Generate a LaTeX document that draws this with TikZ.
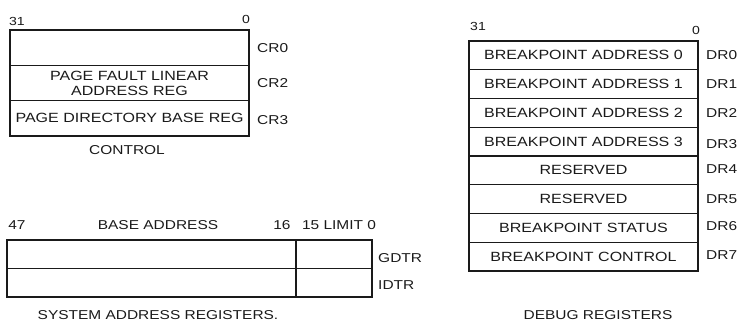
\documentclass[tikz,border=0pt]{standalone}
\usepackage{fontspec}
\setmainfont{Liberation Sans}[FakeStretch=1.2]
\usetikzlibrary{positioning}
\definecolor{ink}{HTML}{1A1A1A}

\begin{document}
\begin{tikzpicture}[x=0.3mm,y=-0.3mm,
  regrow/.style={draw=ink,line width=1.1pt,inner sep=0pt,outer sep=0pt,
    align=center,text=ink,font=\fontsize{11.4}{12.8}\selectfont},
  ctrlrow/.style={regrow,minimum width=71.7mm,minimum height=10.6mm},
  dbgrow/.style={regrow,minimum width=68.7mm,minimum height=8.625mm},
  baserow/.style={regrow,minimum width=86.7mm,minimum height=8.55mm},
  limrow/.style={regrow,minimum width=22.8mm,minimum height=8.55mm},
  tag/.style={text=ink,inner sep=0pt,anchor=west,font=\fontsize{11}{12}\selectfont},
  bitno/.style={text=ink,inner sep=0pt,font=\fontsize{10}{11}\selectfont},
  caption/.style={text=ink,inner sep=0pt,font=\fontsize{11}{12}\selectfont}]

  \useasboundingbox (0,0) rectangle (737,324);

  % control registers
  \node[ctrlrow] (cr0) at (129.5,47.65) {};
  \node[ctrlrow,below=0pt of cr0] (cr2) {PAGE FAULT LINEAR\\ADDRESS REG};
  \node[ctrlrow,below=0pt of cr2] (cr3) {PAGE DIRECTORY BASE REG};
  \node[tag,right=2.4mm of cr0] (cr0tag) {CR0};
  \node[tag,right=2.4mm of cr2] (cr2tag) {CR2};
  \node[tag,right=2.4mm of cr3,yshift=-0.5mm] (cr3tag) {CR3};
  \node[bitno] (ctrlhi) at (17,21) {31};
  \node[bitno] (ctrllo) at (246,19) {0};
  \node[caption] (ctrlcap) at (127,150) {CONTROL};

  % system address registers
  \node[baserow] (gdtrbase) at (151.5,254.25) {};
  \node[limrow,right=0pt of gdtrbase] (gdtrlim) {};
  \node[baserow,below=0pt of gdtrbase] (idtrbase) {};
  \node[limrow,right=0pt of idtrbase] (idtrlim) {};
  \node[tag,right=1.8mm of gdtrlim,yshift=-1mm] (gdtrtag) {GDTR};
  \node[tag,right=1.8mm of idtrlim,yshift=-0.6mm] (idtrtag) {IDTR};
  \node[caption] (basehi) at (17,225) {47};
  \node[caption] (basetxt) at (158,225) {BASE ADDRESS};
  \node[caption] (baselo) at (282,225) {16};
  \node[caption] (limtxt) at (339,225) {15 LIMIT 0};
  \node[caption] (syscap) at (158,315) {SYSTEM ADDRESS REGISTERS.};

  % debug registers
  \node[dbgrow] (dr0) at (583.5,55.375) {BREAKPOINT ADDRESS 0};
  \node[dbgrow,below=0pt of dr0] (dr1) {BREAKPOINT ADDRESS 1};
  \node[dbgrow,below=0pt of dr1] (dr2) {BREAKPOINT ADDRESS 2};
  \node[dbgrow,below=0pt of dr2] (dr3) {BREAKPOINT ADDRESS 3};
  \node[dbgrow,below=0pt of dr3] (dr4) {RESERVED};
  \node[dbgrow,below=0pt of dr4] (dr5) {RESERVED};
  \node[dbgrow,below=0pt of dr5] (dr6) {BREAKPOINT STATUS};
  \node[dbgrow,below=0pt of dr6] (dr7) {BREAKPOINT CONTROL};
  \node[tag,right=2.4mm of dr0] (dr0tag) {DR0};
  \node[tag,right=2.4mm of dr1] (dr1tag) {DR1};
  \node[tag,right=2.4mm of dr2] (dr2tag) {DR2};
  \node[tag,right=2.4mm of dr3,yshift=-0.6mm] (dr3tag) {DR3};
  \node[tag,right=2.4mm of dr4,yshift=0.4mm] (dr4tag) {DR4};
  \node[tag,right=2.4mm of dr5] (dr5tag) {DR5};
  \node[tag,right=2.4mm of dr6,yshift=0.5mm] (dr6tag) {DR6};
  \node[tag,right=2.4mm of dr7,yshift=0.5mm] (dr7tag) {DR7};
  \node[bitno] (dbghi) at (478,26) {31};
  \node[bitno] (dbglo) at (696,30) {0};
  \node[caption] (dbgcap) at (598,315) {DEBUG REGISTERS};
\end{tikzpicture}
\end{document}
